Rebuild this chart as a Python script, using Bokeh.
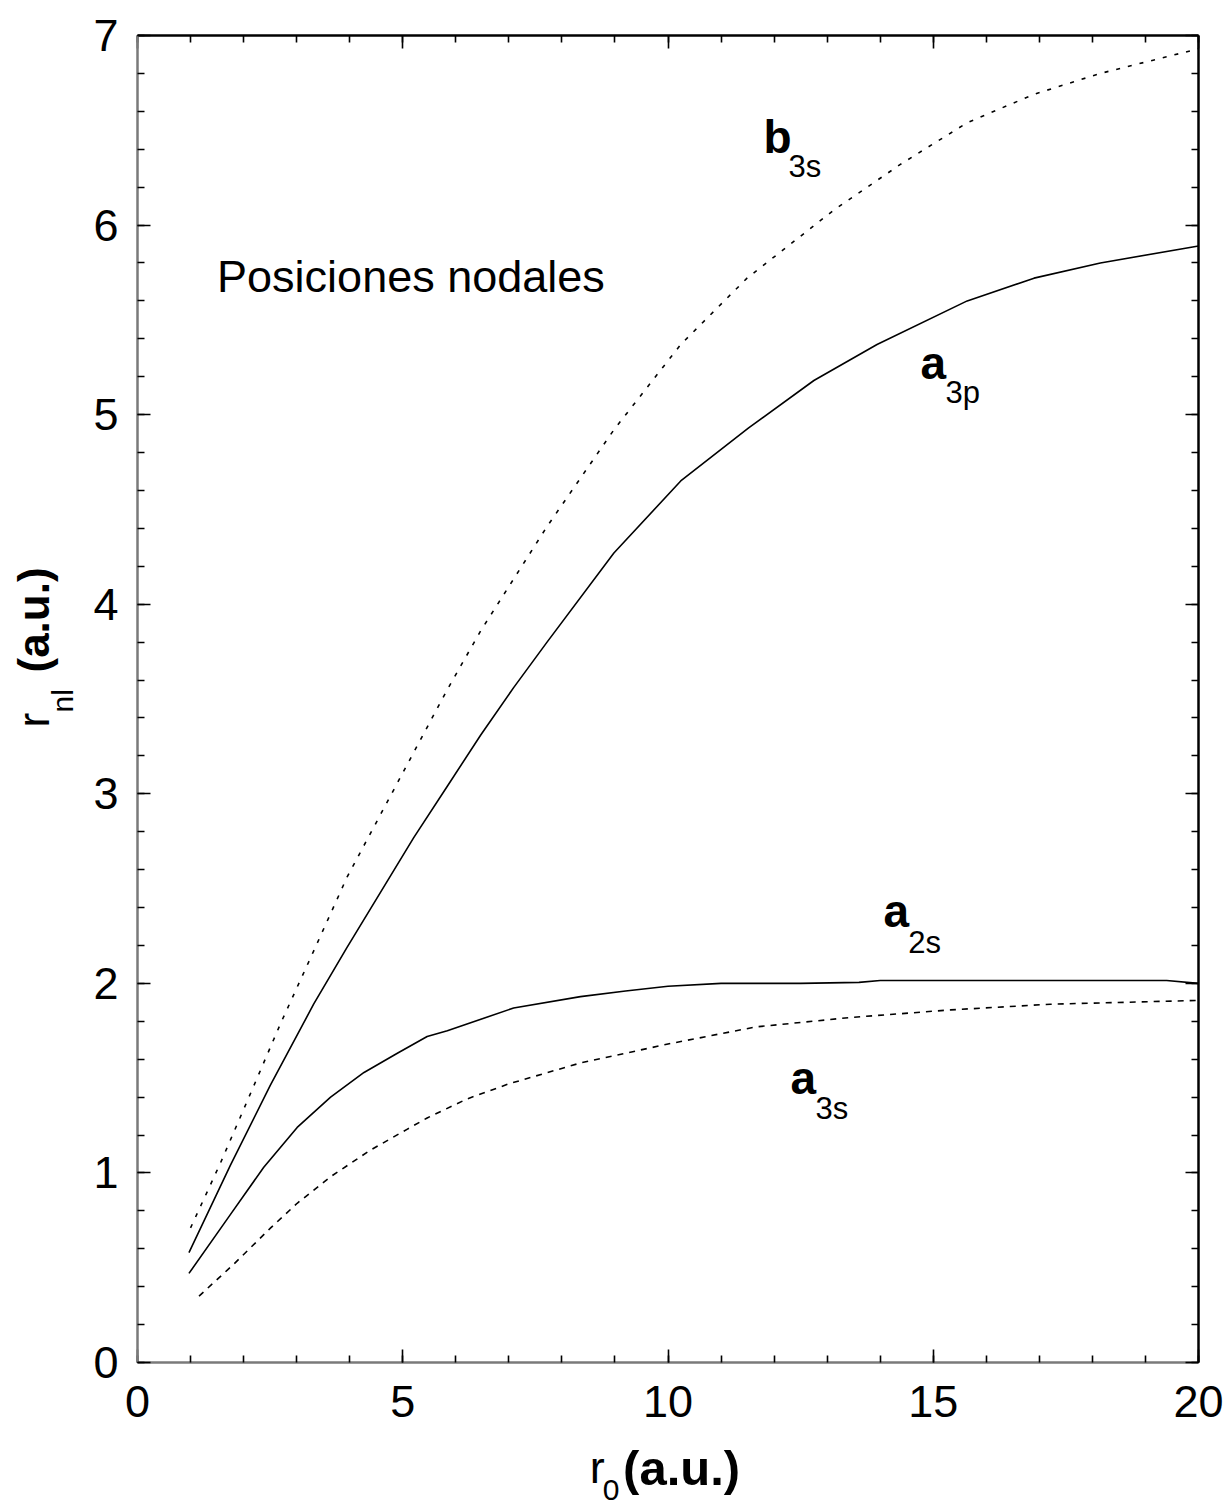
import math
from bokeh.plotting import figure
from bokeh.layouts import row, column
from bokeh.models import Range1d, SingleIntervalTicker, LinearAxis, Label
from bokeh.embed import file_html
from bokeh.resources import INLINE

# ---- data ----
b3s_x = [1.0, 1.56, 2.07, 2.70, 3.32, 3.95, 4.58, 5.21, 5.84, 6.47, 7.72, 8.98,
         10.24, 11.49, 13.13, 14.38, 15.64, 16.9, 18.15, 20.0]
b3s_y = [0.71, 1.05, 1.38, 1.79, 2.17, 2.56, 2.89, 3.22, 3.55, 3.86, 4.41, 4.92,
         5.37, 5.72, 6.08, 6.32, 6.54, 6.69, 6.80, 6.93]

a3p_x = [0.97, 1.75, 2.5, 3.32, 3.95, 4.58, 5.21, 5.84, 6.47, 7.09, 7.72, 8.98,
         10.24, 11.52, 12.75, 13.94, 15.64, 16.9, 18.15, 20.0]
a3p_y = [0.58, 1.04, 1.46, 1.89, 2.19, 2.48, 2.77, 3.04, 3.31, 3.56, 3.80, 4.27,
         4.65, 4.93, 5.18, 5.37, 5.60, 5.72, 5.80, 5.89]

a2s_x = [0.97, 1.75, 2.38, 3.01, 3.64, 4.27, 4.89, 5.46, 5.84, 7.09, 8.35, 9.2,
         10.0, 11.0, 12.5, 13.6, 14.0, 16.0, 18.0, 19.4, 20.0]
a2s_y = [0.47, 0.78, 1.03, 1.24, 1.40, 1.53, 1.63, 1.72, 1.75, 1.87, 1.93, 1.96,
         1.985, 2.0, 2.0, 2.005, 2.015, 2.015, 2.015, 2.015, 2.0]

a3s_x = [1.16, 1.82, 2.51, 3.01, 3.64, 4.39, 5.08, 5.46, 6.21, 7.0, 8.35, 10.0,
         11.65, 13.44, 15.33, 17.21, 20.0]
a3s_y = [0.35, 0.52, 0.71, 0.84, 0.98, 1.12, 1.23, 1.29, 1.39, 1.47, 1.58, 1.68,
         1.77, 1.82, 1.86, 1.89, 1.91]

x_major, x_minor_count = 5, 5
y_major, y_minor_count = 1, 5

FONT = "Liberation Sans"

LEFT_W = 80      # width of the strip holding the y-axis title
BOTTOM_H = 70    # height of the strip holding the x-axis title
MAIN_H = 1508 - BOTTOM_H
MAIN_W = 1225 - LEFT_W

p = figure(frame_width=1061, frame_height=1327,
           min_border_left=137 - LEFT_W, min_border_right=27,
           min_border_top=35, min_border_bottom=MAIN_H - 35 - 1327,
           x_range=Range1d(0, 20), y_range=Range1d(0, 7),
           output_backend="svg", toolbar_location=None,
           x_axis_location=None, y_axis_location=None)
p.xgrid.visible = False
p.ygrid.visible = False
p.outline_line_color = None
p.background_fill_color = "white"
p.border_fill_color = "white"


def make_axis(ticker_interval, ncount, labels, line_color):
    ax = LinearAxis(ticker=SingleIntervalTicker(interval=ticker_interval,
                                                num_minor_ticks=ncount))
    ax.axis_line_color = line_color
    ax.axis_line_width = 2.5
    ax.major_tick_in = 13
    ax.major_tick_out = 0
    ax.minor_tick_in = 7
    ax.minor_tick_out = 0
    ax.major_tick_line_color = "black"
    ax.minor_tick_line_color = "black"
    ax.major_tick_line_width = 1.6
    ax.minor_tick_line_width = 1.6
    if labels:
        ax.major_label_text_font = FONT
        ax.major_label_text_font_size = "45px"
        ax.major_label_text_color = "black"
    else:
        ax.major_label_text_font_size = "1px"
        ax.major_label_text_color = None
        ax.major_label_standoff = 0
    return ax


bottom = make_axis(x_major, x_minor_count, True, "#7a7a7a")
bottom.major_label_standoff = 23
left = make_axis(y_major, y_minor_count, True, "#7a7a7a")
left.major_label_standoff = 19
top = make_axis(x_major, x_minor_count, False, "black")
right = make_axis(y_major, y_minor_count, False, "black")
p.add_layout(bottom, "below")
p.add_layout(left, "left")
p.add_layout(top, "above")
p.add_layout(right, "right")

# curves
p.line(b3s_x, b3s_y, line_color="black", line_width=1.6, line_dash="4 8")
p.line(a3p_x, a3p_y, line_color="black", line_width=1.6)
p.line(a2s_x, a2s_y, line_color="black", line_width=1.6)
p.line(a3s_x, a3s_y, line_color="black", line_width=1.6, line_dash="6 6")


def lab(fig, x, y, text, size, bold=False, angle=0.0):
    fig.add_layout(Label(x=x, y=y, text=text, text_font=FONT,
                         text_font_size=size,
                         text_font_style="bold" if bold else "normal",
                         text_color="black", text_align="left",
                         text_baseline="alphabetic", angle=angle))


# annotation inside the plot
lab(p, 1.50, 5.729, "Posiciones nodales", "45px")

# curve labels
lab(p, 11.80, 6.466, "b", "46px", True)
lab(p, 12.27, 6.308, "3s", "31px")
lab(p, 14.76, 5.274, "a", "46px", True)
lab(p, 15.23, 5.116, "3p", "31px")
lab(p, 14.06, 2.384, "a", "46px", True)
lab(p, 14.53, 2.215, "2s", "31px")
lab(p, 12.31, 1.503, "a", "46px", True)
lab(p, 12.78, 1.340, "3s", "31px")


def strip(w, h, xr, yr):
    f = figure(width=w, height=h, x_range=Range1d(*xr), y_range=Range1d(*yr),
               min_border=0, output_backend="svg", toolbar_location=None,
               x_axis_location=None, y_axis_location=None)
    f.xgrid.visible = False
    f.ygrid.visible = False
    f.outline_line_color = None
    f.background_fill_color = "white"
    f.border_fill_color = "white"
    return f


# y-axis title strip (data units = pixels, y measured from strip bottom)
left_fig = strip(LEFT_W, MAIN_H, (0, LEFT_W), (0, MAIN_H))
rot = math.pi / 2
lab(left_fig, 33, MAIN_H - 727, "r", "44px", False, rot)
lab(left_fig, 62, MAIN_H - 712, "nl", "30px", False, rot)
lab(left_fig, 33, MAIN_H - 672, "(a.u.)", "44px", True, rot)

# x-axis title strip (data units = canvas pixels in x, y from strip bottom)
bottom_fig = strip(MAIN_W, BOTTOM_H, (LEFT_W, 1225), (0, BOTTOM_H))
lab(bottom_fig, 568, 1508 - 1467, "r", "45px")
lab(bottom_fig, 582, 1508 - 1489, "0", "30px")
lab(bottom_fig, 604, 1508 - 1467, "(a.u.)", "49px", True)

layout = row(left_fig, column(p, bottom_fig, spacing=0), spacing=0)

open("out.html", "w").write(file_html(layout, INLINE))
